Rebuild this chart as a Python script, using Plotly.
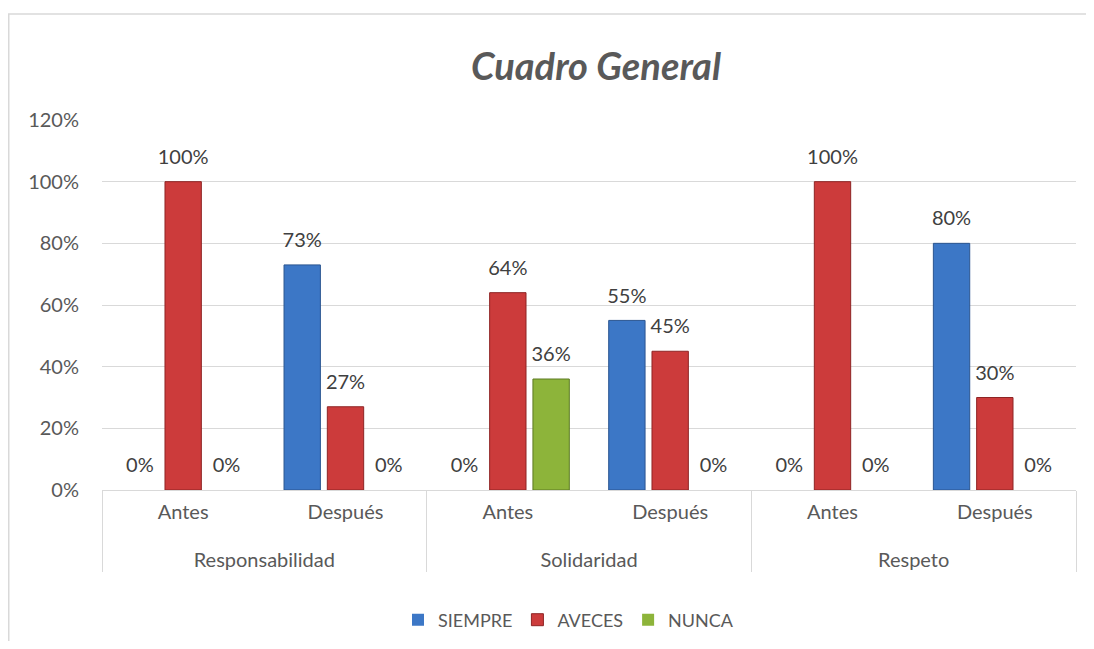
import plotly.graph_objects as go

grupos = ["Responsabilidad", "Responsabilidad", "Solidaridad", "Solidaridad", "Respeto", "Respeto"]
momentos = ["Antes", "Después", "Antes", "Después", "Antes", "Después"]
siempre = [0.00, 0.73, 0.00, 0.55, 0.00, 0.80]
aveces = [1.00, 0.27, 0.64, 0.45, 1.00, 0.30]
nunca = [0.00, 0.00, 0.36, 0.00, 0.00, 0.00]
y_ticks = [0, 0.2, 0.4, 0.6, 0.8, 1.0, 1.2]

FONT = "Lato"
TXT = "#595959"
FS = 20

series = [
    ("SIEMPRE", siempre, "#3c77c6", "#2a5590"),
    ("AVECES", aveces, "#cc3b3b", "#8e2424"),
    ("NUNCA", nunca, "#8db43a", "#5c7a22"),
]

# inner labels get a blank extra line so the outer level sits lower (Excel-like spacing)
inner = [m + "<br> " for m in momentos]

fig = go.Figure()
for i, (name, vals, col, line) in enumerate(series):
    fig.add_trace(go.Bar(
        name=name,
        x=[grupos, inner],
        y=vals,
        offsetgroup=str(i),
        marker=dict(color=col,
                    line=dict(color=line, width=[1 if v > 0 else 0 for v in vals])),
        hoverinfo="skip",
    ))
for i, (name, vals, col, line) in enumerate(series):
    fig.add_trace(go.Scatter(
        x=[grupos, inner],
        y=vals,
        offsetgroup=str(i),
        mode="markers+text",
        marker=dict(size=19, opacity=0),
        text=[f"{round(v*100)}%" for v in vals],
        textposition="top center",
        textfont=dict(family=FONT, size=FS, color="#404040"),
        cliponaxis=False,
        showlegend=False,
        hoverinfo="skip",
    ))

W, H = 1078, 633
L, T, PW, PH = 94, 112, 974, 370
fx0 = (0.75 - L) / PW
fy1 = 1 + (T - 6) / PH
fig.update_layout(
    width=W, height=H,
    paper_bgcolor="white", plot_bgcolor="white",
    margin=dict(l=L, r=W - L - PW, t=T, b=H - T - PH, autoexpand=False),
    barmode="group", bargap=0.2, bargroupgap=0.16,
    scattermode="group", scattergap=0.2,
    title=dict(text="<b><i>Cuadro General</i></b>", xref="container", x=588 / W,
               xanchor="center", yref="container", y=1 - 59 / H, yanchor="middle",
               font=dict(family=FONT, size=38, color=TXT)),
    font=dict(family=FONT, size=FS, color=TXT),
    legend=dict(orientation="h", xref="container", x=390 / W, xanchor="left",
                yref="container", y=(H - 612) / H, yanchor="middle",
                font=dict(family=FONT, size=18, color=TXT),
                itemwidth=30, traceorder="normal"),
    xaxis=dict(type="multicategory", showline=True, linecolor="#d9d9d9", linewidth=1,
               showdividers=True, dividercolor="#d9d9d9", dividerwidth=1,
               automargin=False, ticklabelstandoff=4,
               tickfont=dict(family=FONT, size=FS, color=TXT), showgrid=False),
    yaxis=dict(range=[0, 1.2], tickvals=y_ticks, tickformat=".0%", automargin=False,
               showgrid=True, gridcolor="#d9d9d9", gridwidth=1, zeroline=False,
               ticks="", ticklabelstandoff=22,
               tickfont=dict(family=FONT, size=FS, color=TXT)),
    shapes=[dict(type="path", xref="paper", yref="paper",
                 path=f"M {fx0},-1 L {fx0},{fy1} L 1.5,{fy1}",
                 line=dict(color="#d9d9d9", width=1.5), layer="below")],
)

fig.write_html("out.html")
